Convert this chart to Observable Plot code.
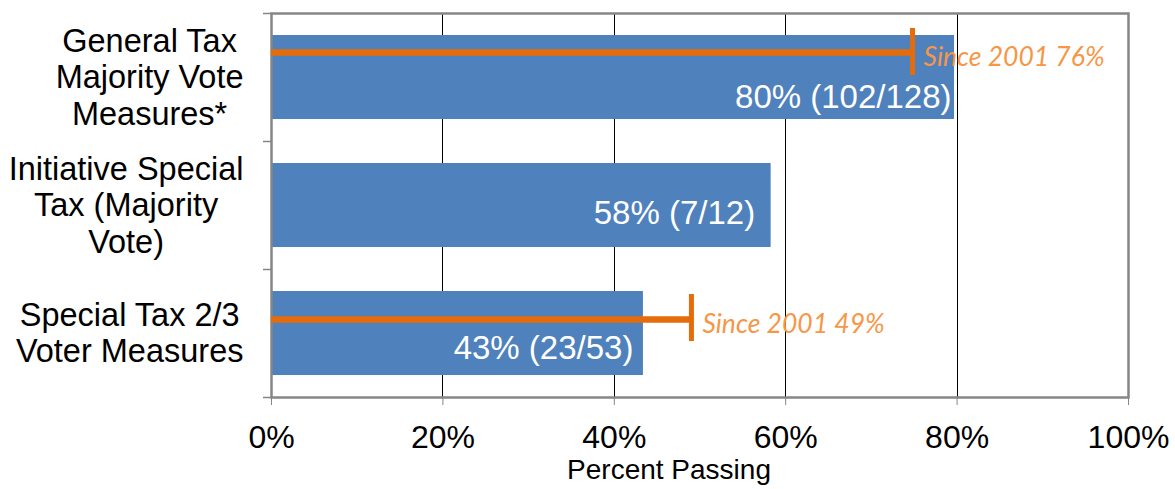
<!DOCTYPE html>
<html><head><meta charset="utf-8">
<script src="https://cdn.jsdelivr.net/npm/d3@7"></script>
<script src="https://cdn.jsdelivr.net/npm/@observablehq/plot@0.6"></script>
<style>body{margin:0;background:#fff;font-family:"Liberation Sans",Arial,sans-serif}</style>
</head><body><div id="chart"></div>
<script>
const categories = ["General Tax\nMajority Vote\nMeasures*", "Initiative Special\nTax (Majority\nVote)", "Special Tax 2/3\nVoter Measures"];
const percentPassing = [79.7, 58.3, 43.4];
const valueLabels = ["80% (102/128)", "58% (7/12)", "43% (23/53)"];
const since2001Categories = ["General Tax\nMajority Vote\nMeasures*", "Special Tax 2/3\nVoter Measures"];
const since2001Values = [74.8, 49];
const since2001Labels = ["Since 2001 76%", "Since 2001 49%"];
const xTicks = [0, 20, 40, 60, 80, 100];
const axisTitle = "Percent Passing";

const rows = categories.map((c, i) => ({category: c, idx: i, value: percentPassing[i], label: valueLabels[i]}));
const sinceRows = since2001Categories.map((c, k) => ({idx: categories.indexOf(c), value: since2001Values[k], label: since2001Labels[k]}));

// styling offsets (pixels)
const valueDx = [-3, -16, -10];
const valueDy = [84, 72, 79];
const lineDy = [39, 50];
const tickInsets = [[15, 66], [25, 56]];

const ORANGE = "#E46C0A", LABEL_ORANGE = "#F79646", BLUE = "#4F81BD", GRAY = "#868686";

const marks = [
  Plot.gridX(xTicks.filter(t => t > 0 && t < 100), {stroke: "#000", strokeOpacity: 1, strokeWidth: 1, shapeRendering: "crispEdges"}),
  Plot.rectX(rows, {x1: 0, x2: "value", y1: "idx", y2: d => d.idx + 1, insetTop: 22, insetBottom: 22, fill: BLUE}),
  Plot.frame({stroke: GRAY, strokeWidth: 2.5}),
  Plot.axisY([0, 1, 2, 3], {tickFormat: () => "", tickSize: 8, stroke: GRAY, strokeWidth: 1.5, label: null}),
  Plot.axisX(xTicks, {anchor: "bottom", tickFormat: d => d + "%", tickSize: 8, tickPadding: 20, fontSize: 32, stroke: GRAY, fill: "#000", label: null}),
  Plot.text(rows, {y: d => d.idx + 0.5, text: "category", frameAnchor: "left", dx: -28, textAnchor: "end", fontSize: 32.5, lineHeight: 1.12, dy: -1, fill: "#000"}),
  Plot.text([axisTitle], {text: d => d, frameAnchor: "bottom", dx: -31, dy: 73, lineAnchor: "middle", fontSize: 28, fill: "#000"})
];
rows.forEach((r, i) => {
  marks.push(Plot.text([r], {x: "value", y: "idx", text: "label", textAnchor: "end", lineAnchor: "middle", dx: valueDx[i], dy: valueDy[i], fontSize: 33, fill: "#fff"}));
});
sinceRows.forEach((r, k) => {
  marks.push(Plot.ruleY([r], {y: "idx", x1: 0, x2: "value", dy: lineDy[k], stroke: ORANGE, strokeWidth: 6.5}));
  marks.push(Plot.ruleX([r], {x: "value", y1: "idx", y2: d => d.idx + 1, insetTop: tickInsets[k][0], insetBottom: tickInsets[k][1], stroke: ORANGE, strokeWidth: 5}));
  marks.push(Plot.text([r], {x: "value", y: "idx", text: "label", textAnchor: "start", lineAnchor: "middle", dx: 11, dy: lineDy[k] + 5, fill: LABEL_ORANGE, fontStyle: "italic", fontFamily: "Lato", fontSize: 26.5}));
});

const chart = Plot.plot({
  width: 1175, height: 489,
  marginLeft: 271, marginRight: 47, marginTop: 13, marginBottom: 92,
  x: {domain: [0, 100]},
  y: {domain: [0, 3], reverse: true},
  style: {fontFamily: "'Liberation Sans', Arial, sans-serif", background: "#fff", overflow: "visible"},
  marks
});
document.getElementById("chart").appendChild(chart);

// center the lines of each category label within its right-aligned block
const firstLines = categories.map(c => c.split("\n")[0]);
chart.querySelectorAll("text").forEach(t => {
  const spans = t.querySelectorAll("tspan");
  if (spans.length < 2 || !firstLines.includes(spans[0].textContent)) return;
  let maxW = 0;
  spans.forEach(s => { maxW = Math.max(maxW, s.getComputedTextLength()); });
  t.setAttribute("text-anchor", "middle");
  t.style.textAnchor = "middle";
  spans.forEach(s => s.setAttribute("x", -maxW / 2));
});
</script>
</body></html>
